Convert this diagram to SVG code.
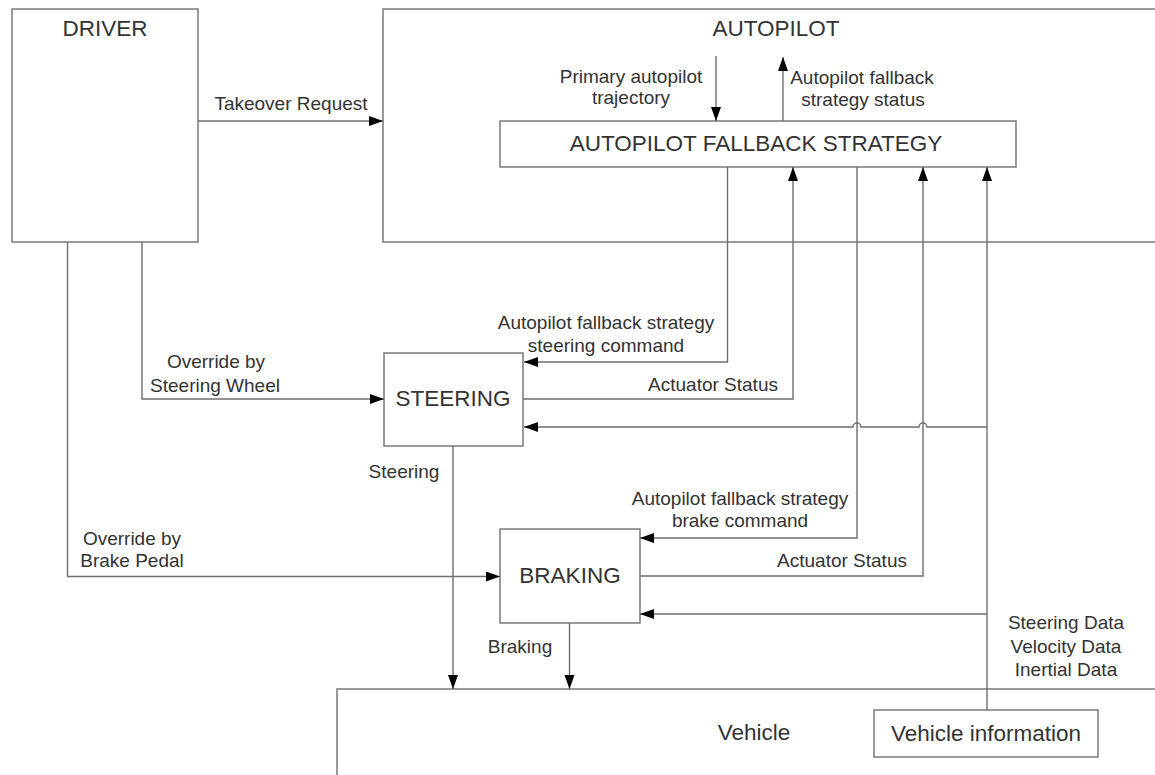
<svg xmlns="http://www.w3.org/2000/svg" width="1155" height="775" viewBox="0 0 1155 775">
  <style>
    .box { fill: #ffffff; stroke: #7a7a7a; stroke-width: 1.5; }
    .wire { fill: none; stroke: #6e6e6e; stroke-width: 1.4; }
    .title { font-family: "Liberation Sans", Arial, sans-serif; font-size: 22.5px; fill: #333333; text-anchor: middle; }
    .lbl { font-family: "Liberation Sans", Arial, sans-serif; font-size: 19px; fill: #333333; text-anchor: middle; }
  </style>
  <defs>
    <marker id="arrow" markerUnits="userSpaceOnUse" markerWidth="15" markerHeight="11" refX="14" refY="5" orient="auto">
      <path d="M0,0 L14,5 L0,10 Z" fill="#000000"/>
    </marker>
  </defs>
  <rect width="1155" height="775" fill="#ffffff"/>

  <!-- blocks -->
  <g id="driver">
    <rect class="box" x="12" y="9" width="186" height="233"/>
    <text class="title" x="105" y="36">DRIVER</text>
  </g>
  <g id="autopilot">
    <rect class="box" x="383" y="9" width="790" height="233"/>
    <text class="title" x="776" y="36">AUTOPILOT</text>
  </g>
  <g id="fallback-strategy">
    <rect class="box" x="500" y="121" width="516" height="46"/>
    <text class="title" x="756" y="151">AUTOPILOT FALLBACK STRATEGY</text>
  </g>
  <g id="steering">
    <rect class="box" x="384" y="353" width="139" height="93"/>
    <text class="title" x="453" y="406">STEERING</text>
  </g>
  <g id="braking">
    <rect class="box" x="500" y="529" width="140" height="94"/>
    <text class="title" x="570" y="583">BRAKING</text>
  </g>
  <g id="vehicle">
    <rect class="box" x="337" y="689" width="840" height="100"/>
    <text class="title" x="754" y="740">Vehicle</text>
  </g>
  <g id="vehicle-information">
    <rect class="box" x="874" y="710" width="224" height="47"/>
    <text class="title" x="986" y="741">Vehicle information</text>
  </g>

  <!-- signal lines -->
  <g id="connectors">
    <path class="wire" d="M198,121 H383" marker-end="url(#arrow)"/>
    <path class="wire" d="M716,56 V121" marker-end="url(#arrow)"/>
    <path class="wire" d="M783,121 V57" marker-end="url(#arrow)"/>
    <path class="wire" d="M727.5,167 V362 H524" marker-end="url(#arrow)"/>
    <path class="wire" d="M523,399 H793 V167" marker-end="url(#arrow)"/>
    <path class="wire" d="M857,167 V538 H640" marker-end="url(#arrow)"/>
    <path class="wire" d="M640,576 H923 V167" marker-end="url(#arrow)"/>
    <path class="wire" d="M987,710 V167" marker-end="url(#arrow)"/>
    <path class="wire" d="M987,427 H927 A4,4 0 0 0 919,427 H861 A4,4 0 0 0 853,427 H524" marker-end="url(#arrow)"/>
    <path class="wire" d="M987,614 H640" marker-end="url(#arrow)"/>
    <path class="wire" d="M142,242 V399 H384" marker-end="url(#arrow)"/>
    <path class="wire" d="M67.5,242 V576.5 H500" marker-end="url(#arrow)"/>
    <path class="wire" d="M453,446 V689" marker-end="url(#arrow)"/>
    <path class="wire" d="M569.5,623 V689" marker-end="url(#arrow)"/>
  </g>

  <!-- line labels -->
  <g id="labels">
    <text class="lbl" x="291" y="110">Takeover Request</text>
    <text class="lbl" x="631" y="83">Primary autopilot</text>
    <text class="lbl" x="631" y="104">trajectory</text>
    <text class="lbl" x="862" y="84">Autopilot fallback</text>
    <text class="lbl" x="863" y="106">strategy status</text>
    <text class="lbl" x="606" y="329">Autopilot fallback strategy</text>
    <text class="lbl" x="606" y="352">steering command</text>
    <text class="lbl" x="713" y="391">Actuator Status</text>
    <text class="lbl" x="216" y="368">Override by</text>
    <text class="lbl" x="215" y="392">Steering Wheel</text>
    <text class="lbl" x="404" y="478">Steering</text>
    <text class="lbl" x="740" y="505">Autopilot fallback strategy</text>
    <text class="lbl" x="740" y="527">brake command</text>
    <text class="lbl" x="842" y="567">Actuator Status</text>
    <text class="lbl" x="132" y="545">Override by</text>
    <text class="lbl" x="132" y="567">Brake Pedal</text>
    <text class="lbl" x="520" y="653">Braking</text>
    <text class="lbl" x="1066" y="629">Steering Data</text>
    <text class="lbl" x="1066" y="653">Velocity Data</text>
    <text class="lbl" x="1066" y="676">Inertial Data</text>
  </g>
</svg>
